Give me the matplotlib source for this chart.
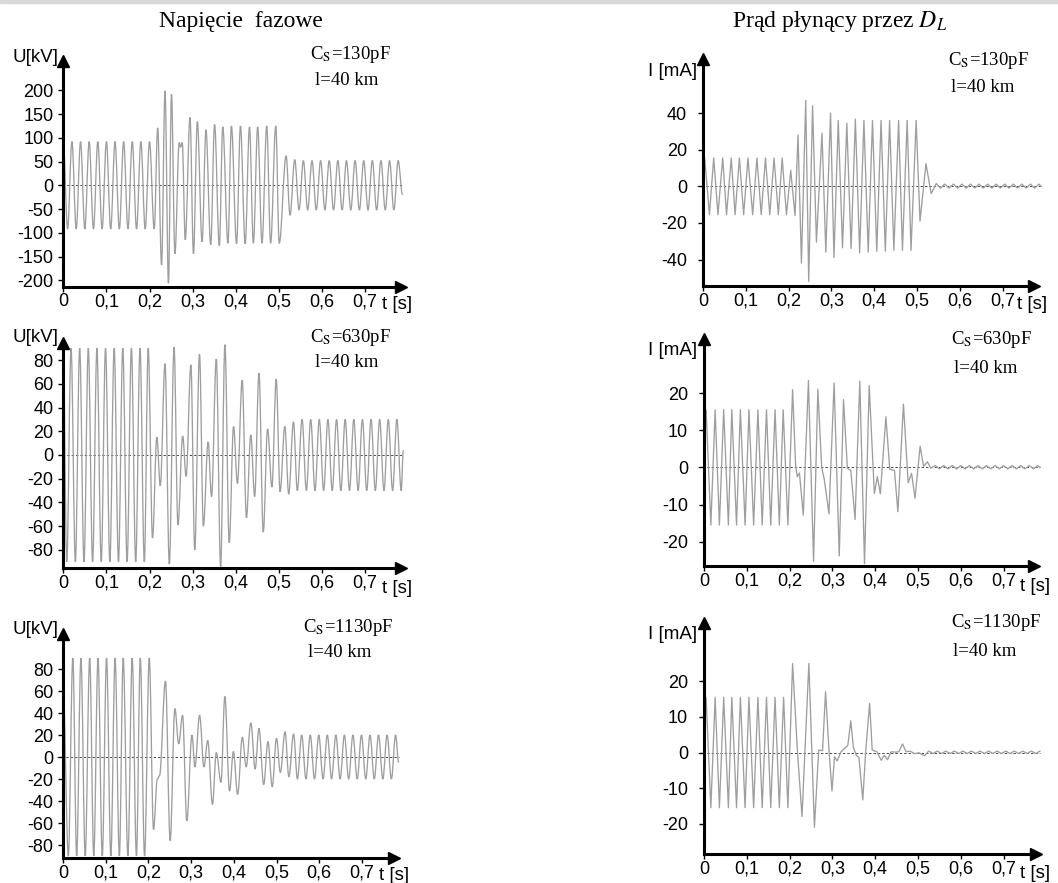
import matplotlib.pyplot as plt
from matplotlib.patches import Rectangle, PathPatch
from matplotlib.path import Path

plt.rcParams["font.family"] = ["Liberation Sans", "DejaVu Sans"]
plt.rcParams["mathtext.fontset"] = "stix"
plt.rcParams["axes.unicode_minus"] = False

SERIF = ["Liberation Serif", "DejaVu Serif"]

# extrema of the recorded waveforms, read off the picture (t in s)
# phase voltage, Cs = 130 pF
U130_T = [0.000, 0.010, 0.020, 0.030, 0.040, 0.050, 0.060, 0.070, 0.080, 0.090,
          0.100, 0.110, 0.120, 0.130, 0.140, 0.150, 0.160, 0.170, 0.180, 0.190,
          0.200, 0.211, 0.219, 0.228, 0.236, 0.244, 0.251, 0.259, 0.269, 0.272,
          0.276, 0.283, 0.294, 0.302, 0.311, 0.322, 0.331, 0.342, 0.351, 0.362,
          0.370, 0.382, 0.390, 0.402, 0.411, 0.422, 0.432, 0.441, 0.451, 0.461,
          0.472, 0.481, 0.493, 0.501, 0.517, 0.526, 0.537, 0.547, 0.557, 0.567,
          0.577, 0.587, 0.597, 0.607, 0.617, 0.627, 0.637, 0.647, 0.657, 0.667,
          0.677, 0.687, 0.697, 0.707, 0.717, 0.727, 0.737, 0.747, 0.757, 0.767,
          0.777, 0.787]
U130_V = [90, -92, 92, -92, 92, -92, 92, -92, 92, -92,
          92, -92, 92, -92, 92, -92, 92, -92, 92, -92,
          92, -92, 121, -168, 199, -206, 192, -144, 90, 80,
          90, -115, 143, -144, 134, -119, 117, -125, 128, -127,
          123, -122, 125, -123, 125, -123, 123, -122, 123, -122,
          125, -122, 125, -122, 62, -63, 54, -52, 52, -52,
          52, -52, 52, -52, 52, -52, 52, -52, 52, -52,
          52, -52, 52, -52, 52, -52, 52, -52, 52, -52,
          52, -20]

# current through D_L, Cs = 130 pF
I130_T = [0.000, 0.004, 0.015, 0.025, 0.035, 0.046, 0.055, 0.066, 0.075, 0.085,
          0.095, 0.105, 0.116, 0.126, 0.136, 0.146, 0.156, 0.166, 0.176, 0.185,
          0.195, 0.205, 0.215, 0.222, 0.230, 0.240, 0.247, 0.256, 0.265, 0.278,
          0.287, 0.298, 0.306, 0.316, 0.326, 0.336, 0.346, 0.356, 0.366, 0.376,
          0.386, 0.396, 0.406, 0.416, 0.426, 0.436, 0.446, 0.457, 0.466, 0.477,
          0.486, 0.498, 0.507, 0.521, 0.533, 0.545, 0.555, 0.565, 0.575, 0.585,
          0.595, 0.605, 0.615, 0.625, 0.635, 0.645, 0.655, 0.665, 0.675, 0.685,
          0.695, 0.705, 0.715, 0.725, 0.735, 0.745, 0.755, 0.765, 0.775, 0.785,
          0.790]
I130_V = [8, 15.5, -15.5, 15.5, -15.5, 15.5, -15.5, 15.5, -15.5, 15.5,
          -15.5, 15.5, -15.5, 15.5, -15.5, 15.5, -15.5, 15.5, -15.5, 15.5,
          -15.5, 8.7, -16, 28, -42, 47, -52, 44, -30.5, 29,
          -36, 40, -39, 36, -33.6, 34.5, -34, 36.7, -36.4, 36,
          -36, 36, -35.5, 36, -35.5, 36, -35, 36, -35, 36,
          -35, 36, -19, 12.4, -4, 1.5, -1, 1.2, -1, 1.2,
          -1, 1.2, -1, 1.2, -1, 1.2, -1, 1.2, -1, 1.2,
          -1, 1.2, -1, 1.2, -1, 1.2, -1, 1.2, -1, 1.2,
          0]

# phase voltage, Cs = 630 pF
U630_T = [0.000, 0.008, 0.018, 0.028, 0.038, 0.048, 0.058, 0.068, 0.078, 0.088,
          0.098, 0.108, 0.118, 0.128, 0.138, 0.148, 0.158, 0.168, 0.178, 0.188,
          0.197, 0.207, 0.217, 0.225, 0.236, 0.246, 0.257, 0.266, 0.277, 0.285,
          0.296, 0.305, 0.316, 0.325, 0.336, 0.344, 0.355, 0.365, 0.375, 0.385,
          0.395, 0.404, 0.415, 0.425, 0.435, 0.444, 0.454, 0.464, 0.474, 0.484,
          0.494, 0.503, 0.514, 0.523, 0.534, 0.543, 0.554, 0.564, 0.574, 0.584,
          0.594, 0.604, 0.614, 0.624, 0.634, 0.644, 0.654, 0.664, 0.674, 0.684,
          0.694, 0.704, 0.714, 0.724, 0.734, 0.744, 0.754, 0.764, 0.774, 0.784,
          0.789]
U630_V = [80, -90, 90, -90, 90, -90, 90, -90, 90, -90,
          90, -90, 90, -90, 90, -90, 90, -90, 90, -90,
          90, -70, 15, -26, 77, -92, 91, -59, 16, -18,
          76, -80, 85, -60, 11, -35, 81, -94, 93, -74,
          24, -24, 63, -53, 17, -35, 69, -65, 22, -27,
          64, -31, 24, -33, 28, -30, 30, -30, 30, -30,
          30, -30, 30, -30, 30, -30, 30, -30, 30, -30,
          30, -30, 30, -30, 30, -30, 30, -30, 30, -30,
          4]

# current through D_L, Cs = 630 pF
I630_T = [0.000, 0.005, 0.016, 0.026, 0.036, 0.046, 0.057, 0.065, 0.076, 0.085,
          0.096, 0.105, 0.116, 0.126, 0.136, 0.146, 0.156, 0.166, 0.176, 0.185,
          0.196, 0.207, 0.214, 0.218, 0.223, 0.232, 0.244, 0.256, 0.266, 0.275,
          0.281, 0.292, 0.304, 0.316, 0.326, 0.335, 0.343, 0.353, 0.364, 0.375,
          0.386, 0.398, 0.405, 0.412, 0.425, 0.434, 0.445, 0.453, 0.466, 0.477,
          0.485, 0.493, 0.505, 0.513, 0.522, 0.530, 0.540, 0.550, 0.560, 0.570,
          0.580, 0.590, 0.600, 0.610, 0.620, 0.630, 0.640, 0.650, 0.660, 0.670,
          0.680, 0.690, 0.700, 0.710, 0.720, 0.730, 0.740, 0.750, 0.760, 0.770,
          0.780, 0.785]
I630_V = [8, 15.5, -15.5, 15.5, -15.5, 15.5, -15.5, 15.5, -15.5, 15.5,
          -15.5, 15.5, -15.5, 15.5, -15.5, 15.5, -15.5, 15.5, -15.5, 15.5,
          -15.5, 20.9, 0.5, -2.5, -1.5, -12.8, 23.4, -25.3, 21, 0,
          -3.2, -12.5, 22.7, -23.8, 18.2, -0.3, -0.8, -14, 23.2, -25.9,
          22, -7, -2.5, -7.1, 13.6, -0.5, -0.8, -11.9, 17, -4.1,
          -1.6, -8.3, 5.7, 0.3, 1.5, -0.2, 0.5, -0.4, 0.5, -0.4,
          0.5, -0.4, 0.5, -0.4, 0.5, -0.4, 0.5, -0.4, 0.5, -0.4,
          0.5, -0.4, 0.5, -0.4, 0.5, -0.4, 0.5, -0.4, 0.5, -0.4,
          0.5, 0]

# phase voltage, Cs = 1130 pF
U1130_T = [0.000, 0.0125, 0.023, 0.032, 0.042, 0.052, 0.0625, 0.072, 0.082, 0.092,
           0.102, 0.112, 0.122, 0.132, 0.141, 0.152, 0.162, 0.172, 0.181, 0.191,
           0.202, 0.212, 0.221, 0.226, 0.240, 0.251, 0.262, 0.271, 0.280, 0.290,
           0.302, 0.309, 0.320, 0.330, 0.339, 0.350, 0.359, 0.370, 0.379, 0.390,
           0.399, 0.409, 0.420, 0.429, 0.440, 0.450, 0.459, 0.470, 0.480, 0.490,
           0.500, 0.509, 0.520, 0.529, 0.540, 0.549, 0.559, 0.569, 0.579, 0.589,
           0.599, 0.609, 0.619, 0.629, 0.639, 0.649, 0.659, 0.669, 0.679, 0.689,
           0.699, 0.709, 0.719, 0.729, 0.739, 0.749, 0.759, 0.769, 0.779, 0.786]
U1130_V = [70, -90, 90, -90, 90, -90, 90, -90, 90, -90,
           90, -90, 90, -90, 90, -90, 90, -90, 90, -90,
           90, -66, -20, -17, 69, -76, 44, 12, 38, -58,
           20, -9, 38, -9, 15, -43, 4, -23, 55, -31,
           5, -34, 18, -9, 31, -11, 26, -25, 14, -27,
           17, -14, 23, -18, 21, -20, 20, -20, 20, -20,
           20, -20, 20, -20, 20, -20, 20, -20, 20, -20,
           20, -20, 20, -20, 20, -20, 20, -20, 20, -5]

# current through D_L, Cs = 1130 pF
I1130_T = [0.000, 0.005, 0.016, 0.026, 0.036, 0.046, 0.057, 0.065, 0.076, 0.085,
           0.096, 0.105, 0.116, 0.126, 0.136, 0.146, 0.156, 0.166, 0.176, 0.186,
           0.196, 0.207, 0.218, 0.229, 0.245, 0.258, 0.268, 0.277, 0.284, 0.292,
           0.299, 0.305, 0.311, 0.320, 0.328, 0.336, 0.343, 0.349, 0.356, 0.362,
           0.371, 0.378, 0.387, 0.393, 0.404, 0.414, 0.421, 0.429, 0.437, 0.449,
           0.455, 0.464, 0.472, 0.481, 0.492, 0.503, 0.515, 0.525, 0.535, 0.545,
           0.555, 0.565, 0.575, 0.585, 0.595, 0.605, 0.615, 0.625, 0.635, 0.645,
           0.655, 0.665, 0.675, 0.685, 0.695, 0.705, 0.715, 0.725, 0.735, 0.745,
           0.755, 0.765, 0.775, 0.785]
I1130_V = [8, 15.5, -15.5, 15.5, -15.5, 15.5, -15.5, 15.5, -15.5, 15.5,
           -15.5, 15.5, -15.5, 15.5, -15.5, 15.5, -15.5, 15.5, -15.5, 15.5,
           -15.5, 25, 1, -18, 25, -21, 0.7, 0.5, 17.1, 0.7,
           -10.8, -1.2, -2.4, 0.2, 1.1, 2.0, 8.9, 1.4, -0.8, -1.4,
           -13.3, 0.7, 13.8, 0.7, 0.2, -2.2, -0.8, -2, 0.2, 0.1,
           0.2, 2.4, 0.2, 0.4, -0.3, -0.1, -0.9, 0.4, -0.3, 0.4,
           -0.3, 0.4, -0.3, 0.4, -0.3, 0.4, -0.3, 0.4, -0.3, 0.4,
           -0.3, 0.4, -0.3, 0.4, -0.3, 0.4, -0.3, 0.4, -0.3, 0.4,
           -0.3, 0.4, -0.3, 0.4]

X_TICKS = [0, 0.1, 0.2, 0.3, 0.4, 0.5, 0.6, 0.7]
X_LABELS = ["0", "0,1", "0,2", "0,3", "0,4", "0,5", "0,6", "0,7"]
U130_TICKS = [-200, -150, -100, -50, 0, 50, 100, 150, 200]
I130_TICKS = [-40, -20, 0, 20, 40]
U_TICKS = [-80, -60, -40, -20, 0, 20, 40, 60, 80]
I_TICKS = [-20, -10, 0, 10, 20]
CS = ["130pF", "630pF", "1130pF"]

W, H = 1058, 883
fig = plt.figure(figsize=(W / 100, H / 100), dpi=100)
fig.patches.append(Rectangle((0, 1 - 3 / H), 1, 3 / H, transform=fig.transFigure,
                             color="#d8d8d8", zorder=0))

ARROW = 6.2  # half size of the arrow heads in px
WAVE = "#9e9e9e"


def ftext(x, y, s, **kw):
    fig.text(x / W, 1 - y / H, s, **kw)


def smooth_wave(ax, t, v):
    # bezier segments with flat tangents at every extremum -> sine-like arcs
    verts = [(t[0], v[0])]
    codes = [Path.MOVETO]
    for i in range(len(t) - 1):
        d = (t[i + 1] - t[i]) * 0.36
        verts += [(t[i] + d, v[i]), (t[i + 1] - d, v[i + 1]), (t[i + 1], v[i + 1])]
        codes += [Path.CURVE4] * 3
    ax.add_patch(PathPatch(Path(verts, codes), fill=False, edgecolor=WAVE, lw=0.95,
                           zorder=2, clip_on=False))


# pixel layout of a panel: y-axis x, px per s, zero line y, px per unit,
# x-axis y, arrow tip top y, arrow tip right x
def panel(x0, pps, y0, ppu, yax, ytip, xtip, t, v, yticks, ypad, smooth):
    right = xtip - ARROW
    top = ytip + ARROW
    ax = fig.add_axes([x0 / W, 1 - yax / H, (right - x0) / W, (yax - top) / H])
    ax.set_xlim(0, (right - x0) / pps)
    ax.set_ylim((y0 - yax) / ppu, (y0 - top) / ppu)
    ax.patch.set_visible(False)

    ax.plot([-0.013, t[-1]], [0, 0], color="#4a4a4a", lw=0.7, ls=(0, (2.5, 2)),
            clip_on=False, zorder=1)
    if smooth:
        smooth_wave(ax, t, v)
    else:
        ax.plot(t, v, color=WAVE, lw=0.95, zorder=2, clip_on=False)

    for s in ("top", "right"):
        ax.spines[s].set_visible(False)
    for s in ("left", "bottom"):
        ax.spines[s].set_linewidth(2.2)
    ax.plot(1, 0, ">", color="k", ms=9, transform=ax.transAxes, clip_on=False)
    ax.plot(0, 1, "^", color="k", ms=9, transform=ax.transAxes, clip_on=False)

    ax.set_xticks(X_TICKS, X_LABELS)
    ax.set_yticks(yticks)
    ax.tick_params(axis="x", length=3.5, width=1, pad=1.5, labelsize=13)
    ax.tick_params(axis="y", length=3.5, width=1, pad=ypad, labelsize=13)
    return ax


panel(63.3, 431, 185.3, 0.475, 286.5, 55, 407.5, U130_T, U130_V, U130_TICKS, 3.5, True)
panel(703, 428, 186.3, 1.83, 286, 53, 1040, I130_T, I130_V, I130_TICKS, 8, False)
panel(63.3, 431, 455, 1.186, 568, 337, 407.5, U630_T, U630_V, U_TICKS, 3.5, True)
panel(704, 428, 467.4, 3.72, 566, 333, 1040, I630_T, I630_V, I_TICKS, 8, False)
panel(63, 427, 757, 1.10, 858, 628, 400, U1130_T, U1130_V, U_TICKS, 3.5, True)
panel(704, 428, 752.5, 3.56, 854, 617, 1042, I1130_T, I1130_V, I_TICKS, 8, False)

# column titles
ftext(241, 22, "Napięcie  fazowe", ha="center", va="center", fontsize=17, family=SERIF)
ftext(840, 22, "Prąd płynący przez $D_L$", ha="center", va="center", fontsize=17,
      family=SERIF)

# axis names
for yb in (62, 342, 634):
    ftext(58, yb, "U[kV]", ha="right", va="baseline", fontsize=13.5)
for yb in (76, 355, 639):
    ftext(697, yb, "I [mA]", ha="right", va="baseline", fontsize=13.5)
for x, yb in ((382, 309), (1017, 309), (382, 593), (1020, 591), (379, 880), (1020, 878)):
    ftext(x, yb, "t [s]", ha="left", va="baseline", fontsize=13.5)

# parameter notes
notes = [(310, 59, 315, 85, CS[0]), (948, 65, 951, 92, CS[0]),
         (310, 342, 315, 367, CS[1]), (951, 344, 954, 373, CS[1]),
         (303, 632, 308, 657, CS[2]), (951, 627, 953, 656, CS[2])]
for xc, yc, xl, yl, cs in notes:
    ftext(xc, yc, "C$_\\mathrm{S}$=" + cs, ha="left", va="baseline", fontsize=13.5,
          family=SERIF)
    ftext(xl, yl, "l=40 km", ha="left", va="baseline", fontsize=13.5, family=SERIF)

fig.savefig("out.png", dpi=100)
